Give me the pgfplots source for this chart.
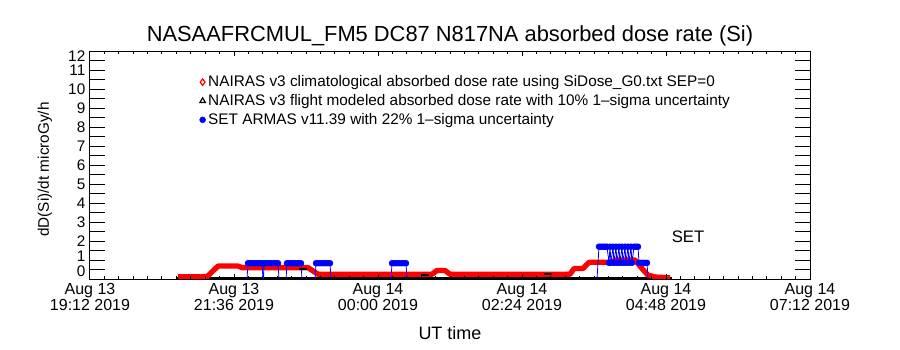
\documentclass[border=0pt]{standalone}
\usepackage{fontspec}
\setmainfont{Liberation Sans}
\usepackage{pgfplots}
\pgfplotsset{compat=1.18}
\begin{document}
\begin{tikzpicture}
\pgfplotsset{
  base/.style={at={(0,0)}, anchor=south west, scale only axis,
    width=540pt, height=171pt, xmin=0, xmax=720, ymin=0, ymax=12,
    axis line style={line width=0.75pt},
    every tick/.style={black, line width=0.75pt}},
}
\begin{axis}[base,
  xtick=\empty,
  ytick={0,1,...,12}, minor y tick num=1,
  major tick length=11.25pt, minor tick length=11.25pt,
  yticklabels={,,2,3,4,5,6,7,8,9,10,11,},
  extra y ticks={0.42,1.22,11.74}, extra y tick labels={0,1,12},
  extra y tick style={major tick length=0pt},
  yticklabel style={font=\fontsize{11.5}{13}\selectfont},
  title={NASAAFRCMUL\_FM5 DC87 N817NA absorbed dose rate (Si)},
  title style={font=\fontsize{16.4}{18}\selectfont, yshift=-6pt},
  ylabel={dD(Si)/dt microGy/h},
  ylabel style={font=\fontsize{11.5}{13}\selectfont, at={(axis description cs:-0.0625,0.48)}, anchor=center},
  unbounded coords=jump,
  legend cell align=left,
  legend style={draw=none, fill=none, at={(0.152,0.905)}, anchor=north west,
    font=\fontsize{11.5}{13}\selectfont, row sep=0.3pt, inner sep=0pt},
]
\addlegendimage{legend image code/.code={\draw[red, line width=0.9pt, mark=diamond, mark size=2.4pt] plot coordinates {(0pt,0pt)};}}
\addlegendentry{NAIRAS v3 climatological absorbed dose rate using SiDose\_G0.txt SEP=0}
\addlegendimage{legend image code/.code={\draw[black, line width=0.9pt, mark=triangle, mark size=2.4pt] plot coordinates {(0pt,0pt)};}}
\addlegendentry{NAIRAS v3 flight modeled absorbed dose rate with 10\% 1--sigma uncertainty}
\addlegendimage{legend image code/.code={\draw[blue, mark=*, mark size=2.2pt] plot coordinates {(0pt,0pt)};}}
\addlegendentry{SET ARMAS v11.39 with 22\% 1--sigma uncertainty}

% NAIRAS v3 flight modeled (black)
\addplot[forget plot, black, line width=2pt] coordinates {(87,0.02) (582,0.02)};
\addplot[forget plot, black, only marks, mark=-, mark size=3pt, line width=1.2pt] coordinates {(213,0.53) (335,0.21) (458,0.26)};
% NAIRAS v3 climatological (red)
\addplot[forget plot, red, line width=4pt, line join=round] coordinates {
(88,0.12) (117,0.12) (128,0.68) (148,0.68) (152,0.6) (218,0.6) (228,0.25)
(342,0.25) (347,0.45) (355,0.45) (360,0.25) (480,0.25) (484,0.55) (493,0.55)
(499,0.88) (520,0.88) (526,1.0) (545,1.0) (552,0.55) (558,0.2) (566,0.1) (580,0.06)};
% SET ARMAS (blue) line
\addplot[forget plot, blue, line width=0.6pt] coordinates {
(157,0) (158,0.83) (172,0.83) (173,0) (173.5,nan)
(173.6,0) (174,0.83) (188,0.83) (189,0) (190,nan)
(196,0) (197,0.83) (211,0.83) (212,0) (213,nan)
(225,0) (226,0.83) (240,0.83) (241,0) (242,nan)
(301,0) (302,0.83) (316,0.83) (317,0) (318,nan)
(507,0) (509,1.7) (511,1.7) (513,1.7) (515,1.7) (517,1.7) (519,0.85) (520,1.7)
(521,0.85) (523,1.7) (524,0.85) (526,1.7) (527,0.85) (529,1.7) (530,0.85)
(532,1.7) (533,0.85) (535,1.7) (536,0.85) (538,1.7) (539,0.85) (541,1.7)
(542,0.85) (544,1.7) (546,1.7) (548,1.7) (549,0.85) (551,0.85) (553,0.85)
(555,0.85) (557,0.85) (558,0)};
% SET ARMAS (blue) markers
\addplot[forget plot, blue, only marks, mark=*, mark size=2.2pt] coordinates {
(158,0.83) (160,0.83) (162,0.83) (164,0.83) (166,0.83) (168,0.83) (170,0.83) (172,0.83)
(174,0.83) (176,0.83) (178,0.83) (180,0.83) (182,0.83) (184,0.83) (186,0.83) (188,0.83)
(197,0.83) (199,0.83) (201,0.83) (203,0.83) (205,0.83) (207,0.83) (209,0.83) (211,0.83)
(226,0.83) (228,0.83) (230,0.83) (232,0.83) (234,0.83) (236,0.83) (238,0.83) (240,0.83)
(302,0.83) (304,0.83) (306,0.83) (308,0.83) (310,0.83) (312,0.83) (314,0.83) (316,0.83)
(509,1.7) (511,1.7) (513,1.7) (515,1.7) (517,1.7) (519,0.85) (520,1.7)
(521,0.85) (523,1.7) (524,0.85) (526,1.7) (527,0.85) (529,1.7) (530,0.85)
(532,1.7) (533,0.85) (535,1.7) (536,0.85) (538,1.7) (539,0.85) (541,1.7)
(542,0.85) (544,1.7) (546,1.7) (548,1.7) (549,0.85) (551,0.85) (553,0.85)
(555,0.85) (557,0.85)};
\node[font=\fontsize{12.5}{14}\selectfont] at (axis cs:598,2.2) {SET};
\end{axis}
\begin{axis}[base,
  ytick=\empty,
  xtick={0,144,288,432,576,720}, minor x tick num=9,
  major tick length=3.75pt, minor tick length=2.25pt,
  xticklabels={{Aug 13\\19:12 2019},{Aug 13\\21:36 2019},{Aug 14\\00:00 2019},{Aug 14\\02:24 2019},{Aug 14\\04:48 2019},{Aug 14\\07:12 2019}},
  xticklabel style={align=center, font=\fontsize{12}{11.5}\selectfont},
  xlabel={UT time},
  xlabel style={font=\fontsize{13.5}{15}\selectfont, at={(axis description cs:0.5,-0.237)}, anchor=center},
]
\end{axis}
\path[use as bounding box] (-67.5pt,-53.25pt) rectangle (607.5pt,209.25pt);
\end{tikzpicture}
\end{document}
